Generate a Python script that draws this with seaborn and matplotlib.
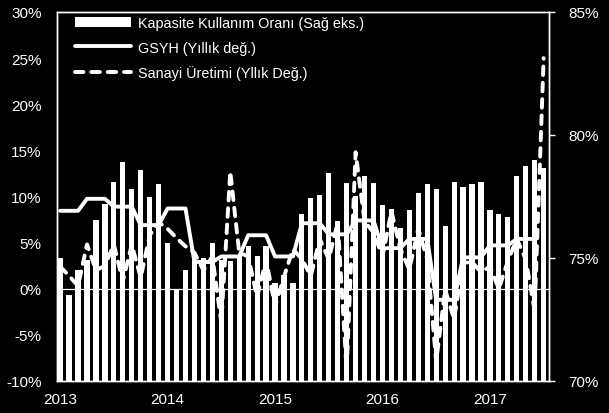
import numpy as np
import pandas as pd
import matplotlib
matplotlib.use("Agg")
import matplotlib.pyplot as plt
import seaborn as sns
from matplotlib.patches import Patch
from matplotlib.lines import Line2D

# ---- data (monthly, Jan 2013 - Jul 2017) ----
months = pd.date_range("2013-01-01", "2017-07-01", freq="MS")

capacity = [75.0, 73.5, 74.5, 74.9, 76.55, 77.2, 78.07, 78.9, 77.8, 78.56, 77.46, 78.0,
            75.6, 73.75, 74.5, 74.9, 75.0, 75.6, 74.9, 74.86, 75.07, 75.47, 75.07, 75.47,
            74.0, 74.3, 74.0, 76.77, 77.45, 77.58, 78.46, 76.5, 78.06, 77.5, 78.35, 78.06,
            77.17, 77.0, 76.2, 76.97, 77.66, 78.0, 77.8, 76.3, 78.1, 77.87, 78.0, 78.1,
            76.97, 76.77, 76.68, 78.35, 78.76, 78.97, 78.67]

gdp_quarterly = [8.45, 9.75, 8.9, 6.9,
                 8.7, 2.9, 3.5, 5.8,
                 3.5, 7.1, 5.9, 7.4,
                 4.4, 5.4, -1.2, 3.4,
                 4.7, 5.4]

industrial = [2.4, 1.4, 0.3, 4.8, 2.0, 2.5, 4.8, 0.8, 4.8, 1.2, 5.8, 7.2,
              6.5, 5.5, 4.6, 3.9, 2.0, 3.5, -3.7, 12.7, 3.9, 3.5, -0.9, 3.2,
              -1.9, 1.3, 4.3, 3.2, 1.4, 5.4, 3.2, 7.2, -8.9, 14.8, 7.3, 6.1,
              3.5, 8.4, 4.3, 2.1, 6.5, 3.2, -7.9, -0.1, -3.3, 2.8, 2.9, 1.8,
              2.4, 0.0, 3.0, 5.4, 3.2, -2.4, 25.0]

year_labels = ["2013", "2014", "2015", "2016", "2017"]
left_ticks = [-10, -5, 0, 5, 10, 15, 20, 25, 30]
right_ticks = [70, 75, 80, 85]

label_bar = "Kapasite Kullanım Oranı (Sağ eks.)"
label_gdp = "GSYH (Yıllık değ.)"
label_ip = "Sanayi Üretimi (Yllık Değ.)"

# ---- frames ----
idx = np.arange(len(months))
gdp_monthly = np.repeat(gdp_quarterly, 3)[: len(months) - 1]
df_bar = pd.DataFrame({"idx": idx, "cap": capacity})
df_gdp = pd.DataFrame({"idx": idx[: len(gdp_monthly)], "gdp": gdp_monthly})
df_ip = pd.DataFrame({"idx": idx, "ip": industrial})

sns.set_theme(style="dark")
plt.rcParams["font.family"] = ["Liberation Sans", "DejaVu Sans"]

fig = plt.figure(figsize=(6.09, 4.14), dpi=100, facecolor="black")
ax = fig.add_axes([0.0936, 0.0773, 0.8079, 0.8913])
ax.set_facecolor("black")

sns.barplot(data=df_bar, x="idx", y="cap", color="white", saturation=1,
            width=0.58, edgecolor="none", linewidth=0, ax=ax)
ax.set_ylim(70, 85)

ax2 = ax.twinx()
ax2.patch.set_alpha(0)
ax2.axhline(0, color="white", lw=0.9, zorder=1)
sns.lineplot(data=df_gdp, x="idx", y="gdp", color="white", lw=2.8, ax=ax2,
             solid_capstyle="round", solid_joinstyle="round")
sns.lineplot(data=df_ip, x="idx", y="ip", color="white", lw=2.8, ax=ax2)
ip_line = ax2.get_lines()[-1]
ip_line.set_linestyle((0, (2.2, 2.0)))
ip_line.set_dash_capstyle("round")
ax2.set_ylim(-10, 30)
ax.set_xlim(-0.35, 54.6)

# axes on their sides
ax.yaxis.tick_right()
ax2.yaxis.tick_left()
ax.set_yticks(right_ticks)
ax.set_yticklabels([f"{t}%" for t in right_ticks])
ax2.set_yticks(left_ticks)
ax2.set_yticklabels([f"{t}%" for t in left_ticks])
ax.set_xticks([0, 12, 24, 36, 48])
ax.set_xticklabels(year_labels)
for a in (ax, ax2):
    a.set_xlabel("")
    a.set_ylabel("")
    a.grid(False)
    for s in a.spines.values():
        s.set_color("white")
        s.set_linewidth(1.0)
        s.set_visible(True)
ax.tick_params(axis="y", colors="white", labelsize=11, length=4, width=1,
               direction="out", pad=10, right=True, left=False)
ax.tick_params(axis="x", colors="white", labelsize=11, length=0, pad=8)
ax2.tick_params(axis="y", colors="white", labelsize=11, length=0, pad=11,
                left=True, right=False)

handles = [Patch(facecolor="white", edgecolor="none"),
           Line2D([], [], color="white", lw=2.8),
           Line2D([], [], color="white", lw=2.8, linestyle=(0, (2.2, 2.0)),
                  dash_capstyle="round")]
leg = ax2.legend(handles, [label_bar, label_gdp, label_ip], loc="upper left",
                 bbox_to_anchor=(0.036, 0.99), frameon=False, fontsize=10.4,
                 handlelength=3.9, handletextpad=0.5, labelspacing=0.75,
                 borderpad=0, borderaxespad=0, labelcolor="white")

fig.savefig("out.png", dpi=100, facecolor="black")
